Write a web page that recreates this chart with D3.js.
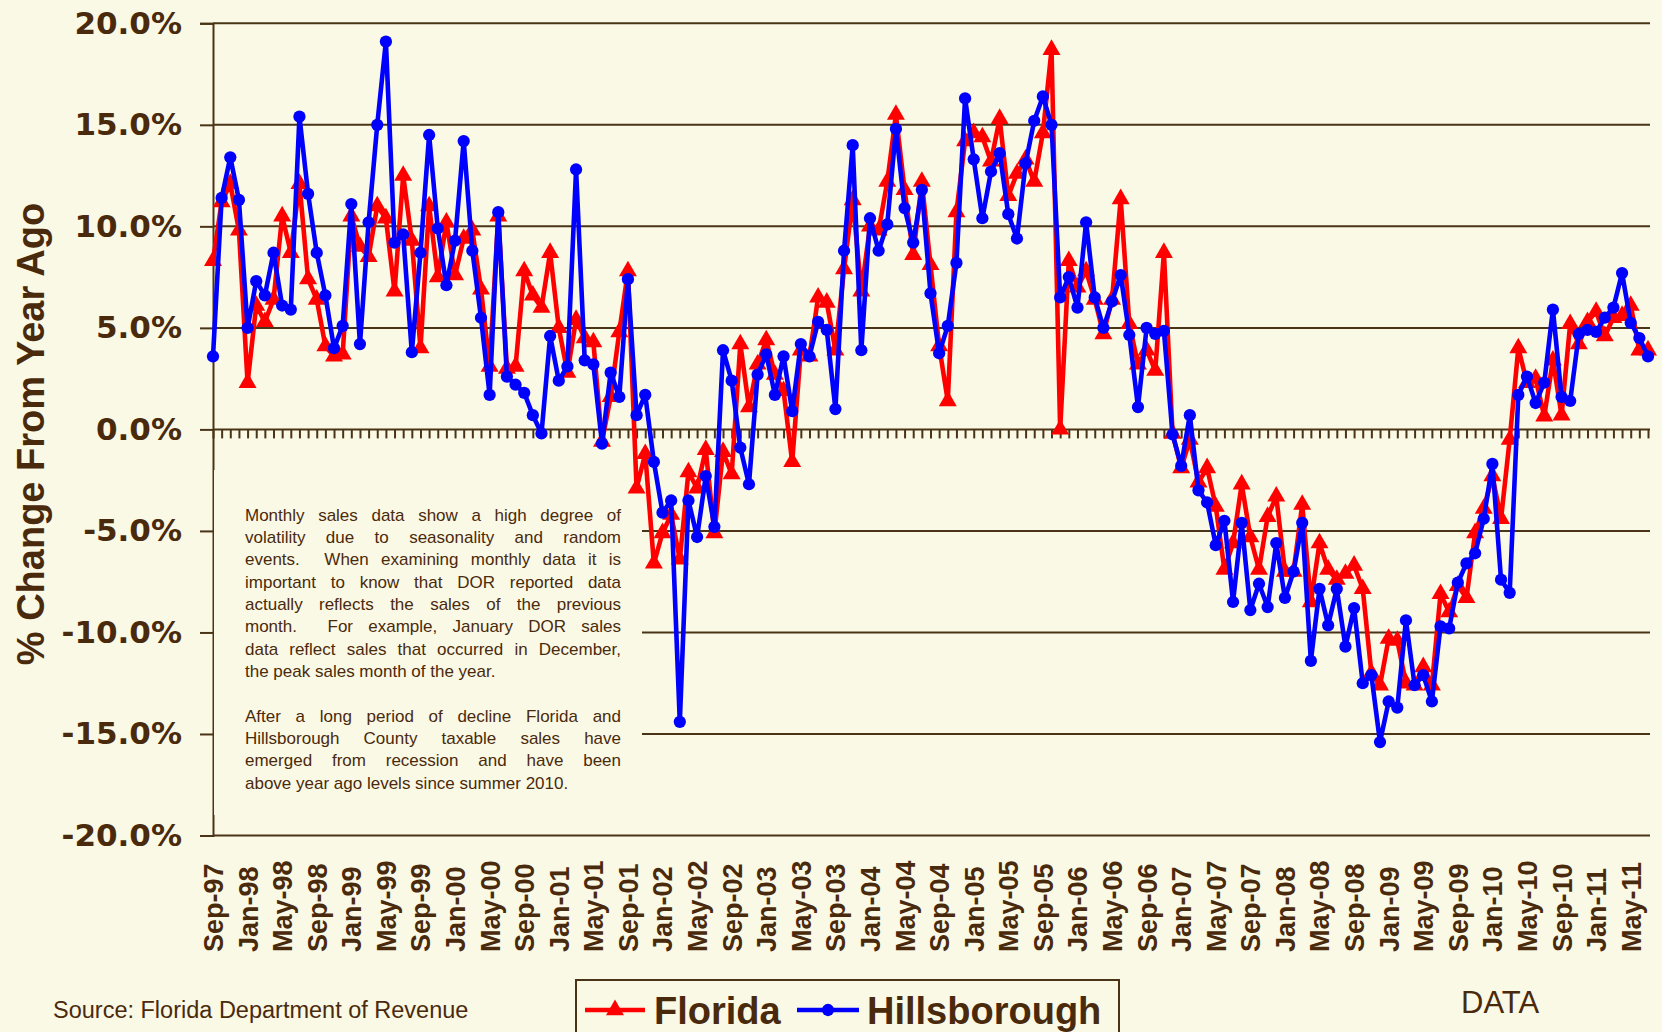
<!DOCTYPE html>
<html>
<head>
<meta charset="utf-8">
<script src="https://cdn.jsdelivr.net/npm/d3@7"></script>
<style>
  html, body { margin: 0; padding: 0; background: #FAF9E5; }
  svg { display: block; }
</style>
</head>
<body>
<svg id="chart" width="1662" height="1032"></svg>
<script>
// monthly % change from year ago, Sep-97 .. Jul-11
const startMonth = new Date(1997, 8, 1);
const endMonth = new Date(2011, 7, 1);

const florida = [
  8.3, 11.2, 12.1, 9.8, 2.3, 6.1, 5.3, 6.4, 10.5, 8.7, 12.1, 7.4, 6.4, 4.1, 3.6, 3.7,
  10.5, 9.0, 8.5, 11.0, 10.4, 6.8, 12.5, 9.3, 4.0, 11.0, 7.5, 10.2, 7.6, 9.4, 9.8, 6.9,
  3.1, 10.5, 3.0, 3.1, 7.8, 6.6, 6.0, 8.7, 5.0, 2.8, 5.4, 4.5, 4.3, -0.6, 1.6, 4.8,
  7.8, -2.9, -1.2, -6.6, -5.1, -4.2, -6.4, -2.1, -2.9, -1.0, -5.1, -1.1, -2.2, 4.2, 1.1, 3.2,
  4.4, 2.7, 1.9, -1.6, 3.9, 3.6, 6.5, 6.25, 3.9, 7.9, 11.3, 6.8, 10.0, 9.8, 12.2, 15.5,
  11.8, 8.6, 12.2, 8.1, 4.1, 1.4, 10.7, 14.2, 14.6, 14.4, 13.2, 15.3, 11.5, 12.6, 13.3, 12.2,
  14.6, 18.7, 0.0, 8.3, 7.0, 7.8, 6.4, 4.7, 6.4, 11.35, 5.2, 3.2, 3.9, 2.9, 8.7, -0.2,
  -1.9, -0.5, -2.6, -1.9, -3.8, -6.9, -5.6, -2.7, -5.3, -6.9, -4.3, -3.3, -7.0, -7.0, -3.7, -8.5,
  -5.6, -6.9, -7.4, -7.1, -6.7, -7.85, -12.0, -12.6, -10.3, -10.4, -12.5, -12.6, -11.7, -12.6, -8.1, -9.0,
  -7.7, -8.3, -5.1, -3.9, -2.3, -4.4, -0.5, 4.0, 2.3, 2.5, 0.65, 3.4, 0.7, 5.2, 4.2, 5.3,
  5.8, 4.6, 5.5, 5.6, 6.1, 3.9, 3.9
];

const hillsborough = [
  3.6, 11.4, 13.4, 11.3, 5.0, 7.3, 6.6, 8.7, 6.1, 5.9, 15.4, 11.6, 8.7, 6.6, 4.0, 5.1,
  11.1, 4.2, 10.2, 15.0, 19.1, 9.2, 9.6, 3.8, 8.7, 14.5, 9.9, 7.1, 9.3, 14.2, 8.8, 5.5,
  1.7, 10.7, 2.6, 2.2, 1.8, 0.7, -0.2, 4.6, 2.4, 3.1, 12.8, 3.4, 3.2, -0.7, 2.8, 1.6,
  7.4, 0.7, 1.7, -1.6, -4.1, -3.5, -14.4, -3.5, -5.3, -2.3, -4.8, 3.9, 2.4, -0.9, -2.7, 2.7,
  3.7, 1.7, 3.6, 0.9, 4.2, 3.6, 5.3, 4.9, 1.0, 8.8, 14.0, 3.9, 10.4, 8.8, 10.1, 14.8,
  10.9, 9.2, 11.8, 6.7, 3.75, 5.1, 8.2, 16.3, 13.3, 10.4, 12.7, 13.6, 10.6, 9.4, 13.1, 15.2,
  16.4, 15.0, 6.5, 7.5, 6.0, 10.2, 6.5, 5.0, 6.3, 7.6, 4.65, 1.1, 5.0, 4.7, 4.85, -0.25,
  -1.8, 0.7, -3.0, -3.6, -5.7, -4.5, -8.5, -4.6, -8.9, -7.6, -8.75, -5.6, -8.3, -7.0, -4.6, -11.4,
  -7.85, -9.65, -7.85, -10.7, -8.8, -12.5, -12.1, -15.4, -13.4, -13.7, -9.4, -12.6, -12.1, -13.4, -9.7, -9.8,
  -7.55, -6.6, -6.1, -4.4, -1.7, -7.4, -8.05, 1.7, 2.6, 1.3, 2.3, 5.9, 1.6, 1.4, 4.7, 4.9,
  4.8, 5.5, 6.0, 7.7, 5.25, 4.5, 3.6
];

const yTicks = [-20, -15, -10, -5, 0, 5, 10, 15, 20];

const note1 = [
  "Monthly sales data show a high degree of",
  "volatility due to seasonality and random",
  "events.  When examining monthly data it is",
  "important to know that DOR reported data",
  "actually reflects the sales of the previous",
  "month.  For example, January DOR sales",
  "data reflect sales that occurred in December,",
  "the peak sales month of the year."
];
const note2 = [
  "After a long period of decline Florida and",
  "Hillsborough County taxable sales have",
  "emerged from recession and have been",
  "above year ago levels since summer 2010."
];

const ink = '#4A2A0C';
const gridColor = '#4A3418';
const bg = '#FAF9E5';
const sans = 'Liberation Sans, Arial, sans-serif';

const months = d3.timeMonths(startMonth, endMonth).map(d3.timeFormat('%b-%y'));

const svg = d3.select('#chart');
svg.append('rect').attr('width', 1662).attr('height', 1032).attr('fill', bg);

const x = d3.scaleLinear().domain([0, months.length - 1]).range([213, 1648]);
const y = d3.scaleLinear().domain([-20, 20]).range([835.5, 23.3]);
const plotRight = 1650;

// horizontal gridlines
svg.append('g')
  .selectAll('line')
  .data(yTicks)
  .join('line')
  .attr('x1', x(0))
  .attr('x2', plotRight)
  .attr('y1', d => y(d))
  .attr('y2', d => y(d))
  .attr('stroke', gridColor)
  .attr('stroke-width', 2);

// y axis
const yAxis = svg.append('g')
  .attr('transform', `translate(${x(0)},0)`)
  .call(d3.axisLeft(y).tickValues(yTicks).tickSize(13).tickPadding(18)
    .tickFormat(d => d.toFixed(1) + '%'));
yAxis.select('.domain').attr('stroke', gridColor).attr('stroke-width', 2);
yAxis.selectAll('.tick line').attr('stroke', gridColor).attr('stroke-width', 2);
yAxis.selectAll('.tick text')
  .attr('fill', ink)
  .attr('font-family', 'DejaVu Sans, Verdana, sans-serif')
  .attr('font-weight', 'bold')
  .attr('font-size', 31);

// monthly tick marks on the zero line
const zeroAxis = svg.append('g')
  .attr('transform', `translate(0,${y(0)})`)
  .call(d3.axisBottom(x).tickValues(d3.range(0, months.length)).tickSize(9).tickFormat(''));
zeroAxis.select('.domain').remove();
zeroAxis.selectAll('.tick line').attr('stroke', gridColor).attr('stroke-width', 2);

// month labels along the bottom
const xAxis = svg.append('g')
  .attr('transform', `translate(0,952)`)
  .call(d3.axisBottom(x).tickValues(d3.range(0, months.length, 4)).tickSize(0)
    .tickFormat(i => months[i]));
xAxis.select('.domain').remove();
xAxis.selectAll('.tick text')
  .attr('transform', 'rotate(-90)')
  .attr('x', 0)
  .attr('y', 0)
  .attr('dy', '0.35em')
  .attr('text-anchor', 'start')
  .attr('fill', ink)
  .attr('font-family', sans)
  .attr('font-weight', 'bold')
  .attr('font-size', 27);

// y axis title
svg.append('text')
  .attr('transform', 'translate(44,434) rotate(-90)')
  .attr('text-anchor', 'middle')
  .attr('fill', ink)
  .attr('font-family', sans)
  .attr('font-weight', 'bold')
  .attr('font-size', 38)
  .text('% Change From Year Ago');

// note box hides the gridlines behind it
svg.append('rect')
  .attr('x', x(0) + 1).attr('y', 470)
  .attr('width', 642 - x(0) - 1).attr('height', 345)
  .attr('fill', bg);

function drawLines(lines, top) {
  const left = 245, right = 621;
  lines.forEach((line, k) => {
    const by = top + k * 22.3;
    if (k === lines.length - 1) {
      svg.append('text')
        .attr('x', left).attr('y', by)
        .attr('fill', ink).attr('font-family', sans).attr('font-size', 17)
        .attr('xml:space', 'preserve')
        .text(line);
      return;
    }
    // justified line: spread the words across the box width
    const words = line.split(' ');
    const g = svg.append('g');
    const nodes = words.map(w => g.append('text')
      .attr('fill', ink).attr('font-family', sans).attr('font-size', 17).text(w));
    const widths = nodes.map((n, i) => words[i] ? n.node().getComputedTextLength() : 0);
    const gap = (right - left - d3.sum(widths)) / (words.length - 1);
    let cx = left;
    nodes.forEach((n, i) => {
      n.attr('x', cx).attr('y', by);
      cx += widths[i] + gap;
    });
  });
}
drawLines(note1, 520.7);
drawLines(note2, 721.7);

// series
const line = d3.line().x((d, i) => x(i)).y(d => y(d));
const triangle = d3.symbol(d3.symbolTriangle, 140);
const circle = d3.symbol(d3.symbolCircle, 118);

svg.append('path')
  .datum(florida)
  .attr('d', line)
  .attr('fill', 'none')
  .attr('stroke', '#FF0000')
  .attr('stroke-width', 4.6)
  .attr('stroke-linejoin', 'round');
svg.append('g')
  .selectAll('path')
  .data(florida)
  .join('path')
  .attr('d', triangle)
  .attr('transform', (d, i) => `translate(${x(i)},${y(d)})`)
  .attr('fill', '#FF0000');

svg.append('path')
  .datum(hillsborough)
  .attr('d', line)
  .attr('fill', 'none')
  .attr('stroke', '#0000FF')
  .attr('stroke-width', 4.6)
  .attr('stroke-linejoin', 'round');
svg.append('g')
  .selectAll('path')
  .data(hillsborough)
  .join('path')
  .attr('d', circle)
  .attr('transform', (d, i) => `translate(${x(i)},${y(d)})`)
  .attr('fill', '#0000FF');

// source and footer
svg.append('text')
  .attr('x', 53).attr('y', 1018)
  .attr('fill', ink).attr('font-family', sans).attr('font-size', 23.5)
  .text('Source: Florida Department of Revenue');
svg.append('text')
  .attr('x', 1461).attr('y', 1013)
  .attr('fill', ink).attr('font-family', sans).attr('font-size', 31)
  .text('DATA');

// legend
const legend = svg.append('g');
legend.append('rect')
  .attr('x', 576).attr('y', 980).attr('width', 543).attr('height', 70)
  .attr('fill', 'none').attr('stroke', gridColor).attr('stroke-width', 2);
const items = [
  { name: 'Florida', color: '#FF0000', sym: triangle, x0: 585, x1: 645, tx: 654 },
  { name: 'Hillsborough', color: '#0000FF', sym: circle, x0: 797, x1: 859, tx: 867 }
];
items.forEach(it => {
  legend.append('line')
    .attr('x1', it.x0).attr('x2', it.x1).attr('y1', 1010).attr('y2', 1010)
    .attr('stroke', it.color).attr('stroke-width', 4.6);
  legend.append('path')
    .attr('d', it.sym)
    .attr('transform', `translate(${(it.x0 + it.x1) / 2},1010)`)
    .attr('fill', it.color);
  legend.append('text')
    .attr('x', it.tx).attr('y', 1024)
    .attr('fill', ink).attr('font-family', sans).attr('font-weight', 'bold').attr('font-size', 38)
    .text(it.name);
});
</script>
</body>
</html>
